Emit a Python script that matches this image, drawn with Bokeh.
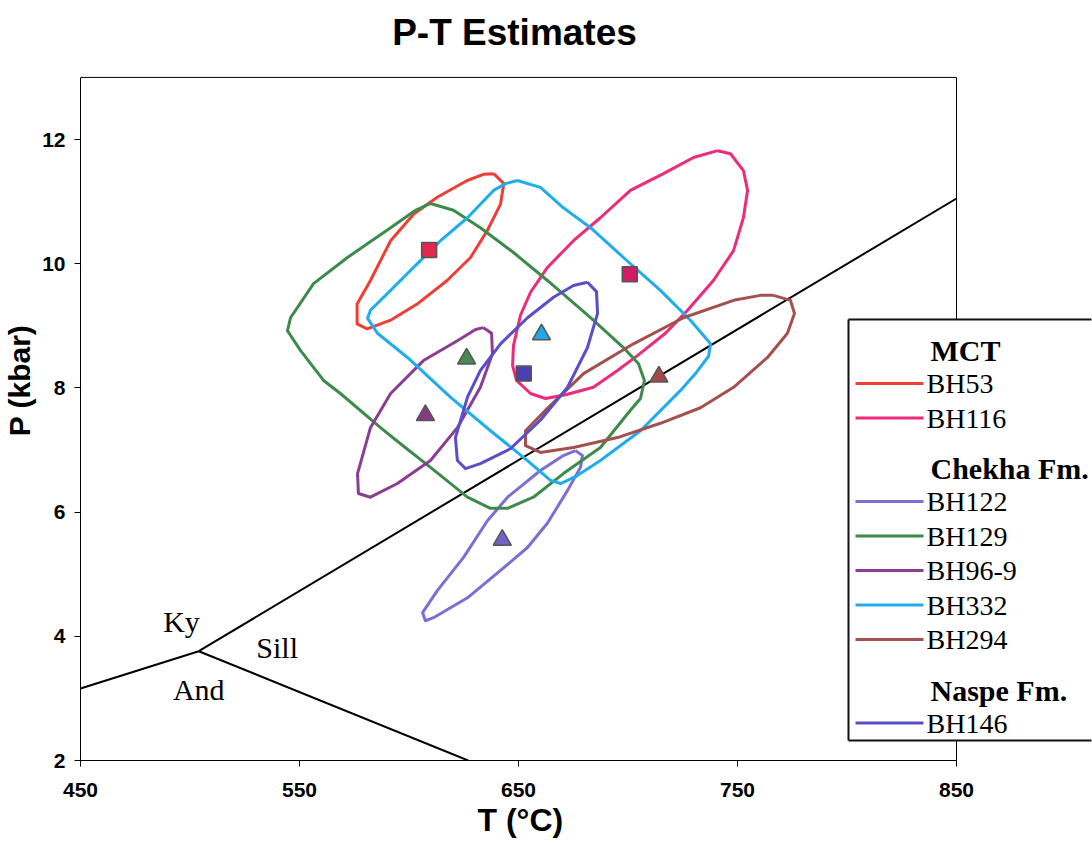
from bokeh.plotting import figure
from bokeh.models import FixedTicker, Label, Arrow, Title
from bokeh.embed import file_html
from bokeh.resources import INLINE
from bokeh.core.properties import value

# ---------------- data ----------------
T_ticks = [450, 550, 650, 750, 850]
P_ticks = [2, 4, 6, 8, 10, 12]
T_min, T_max = 450, 850
P_min, P_max = 2, 13

sample_names = ["BH53", "BH116", "BH122", "BH129", "BH96-9", "BH332", "BH294", "BH146"]
sample_colors = ["#EF3E36", "#EE2A7B", "#7B6FD6", "#3D8B4B", "#8B3D93", "#1FAEE9", "#A2514E", "#5A4FC6"]

BH53_T = [638.7, 643.3, 641.8, 635.7, 628.1, 617.4, 603.7, 591.6, 580.9, 576.3, 576.3, 582.4, 591.6, 602.2, 612.9, 626.6, 634.0]
BH53_P = [11.45, 11.29, 10.96, 10.53, 10.10, 9.73, 9.35, 9.09, 8.95, 9.03, 9.35, 9.73, 10.37, 10.80, 11.07, 11.34, 11.44]

BH116_T = [740.9, 746.8, 752.7, 754.6, 752.7, 748.2, 739.0, 727.2, 717.1, 704.3, 695.2, 684.2, 671.5, 662.3, 655.5,
           649.1, 647.3, 647.7, 650.9, 655.5, 663.2, 675.1, 687.4, 701.1, 716.2, 729.9]
BH116_P = [11.82, 11.77, 11.50, 11.18, 10.74, 10.21, 9.73, 9.25, 8.88, 8.52, 8.28, 8.01, 7.89, 7.83, 7.91,
           8.12, 8.36, 8.68, 9.17, 9.54, 9.94, 10.37, 10.74, 11.18, 11.45, 11.71]

BH122_T = [676.0, 679.2, 678.3, 672.4, 663.2, 654.1, 641.8, 626.7, 611.2, 607.5, 606.2, 613.0, 624.9, 635.8, 645.0, 660.0, 670.5]
BH122_P = [6.99, 6.91, 6.72, 6.35, 5.82, 5.43, 5.06, 4.62, 4.30, 4.25, 4.38, 4.74, 5.27, 5.86, 6.24, 6.67, 6.91]

BH129_T = [609.8, 620.3, 632.6, 647.7, 663.2, 682.9, 697.9, 704.8, 707.5, 705.7, 701.1, 687.4, 670.5, 656.8, 645.0,
           637.2, 626.7, 609.8, 596.1, 587.0, 568.7, 561.0, 550.5, 544.5, 545.9, 556.4, 571.9, 591.6, 603.0]
BH129_P = [10.97, 10.86, 10.58, 10.18, 9.73, 9.13, 8.65, 8.39, 8.12, 7.83, 7.64, 7.04, 6.62, 6.24, 6.06,
           6.06, 6.24, 6.72, 7.10, 7.36, 7.91, 8.12, 8.60, 8.92, 9.13, 9.68, 10.10, 10.58, 10.86]

BH96_9_T = [634.0, 637.7, 638.1, 632.6, 622.1, 609.8, 594.7, 582.4, 576.9, 576.5, 582.4, 591.6, 606.6, 622.1, 630.4]
BH96_9_P = [8.97, 8.88, 8.55, 8.01, 7.36, 6.83, 6.46, 6.24, 6.30, 6.62, 7.36, 7.91, 8.44, 8.76, 8.94]

BH332_T = [649.5, 660.0, 670.5, 682.9, 697.9, 714.8, 728.5, 737.7, 736.8, 730.8, 724.0, 705.7, 687.4, 676.0, 669.2,
           664.6, 654.1, 637.2, 618.9, 599.3, 585.6, 581.1, 582.4, 591.6, 602.1, 614.4, 626.7, 638.6, 644.1]
BH332_P = [11.34, 11.23, 10.90, 10.58, 10.10, 9.57, 9.09, 8.71, 8.51, 8.23, 7.96, 7.31, 6.83, 6.57, 6.46,
           6.51, 6.83, 7.31, 7.85, 8.49, 8.88, 9.12, 9.25, 9.57, 9.94, 10.37, 10.74, 11.18, 11.29]

BH294_T = [766.4, 774.2, 776.0, 772.8, 763.7, 748.2, 733.1, 714.8, 695.2, 675.1, 660.0, 653.2, 653.2, 663.2, 679.7,
           702.5, 725.3, 748.2, 760.5]
BH294_P = [9.49, 9.41, 9.20, 8.88, 8.49, 8.01, 7.68, 7.43, 7.20, 7.04, 6.96, 7.07, 7.31, 7.67, 8.23,
           8.71, 9.13, 9.41, 9.49]

BH146_T = [681.5, 685.6, 686.1, 681.5, 672.4, 660.0, 646.3, 632.6, 625.8, 622.1, 621.2, 626.7, 632.6, 641.8, 654.1, 666.0, 675.1]
BH146_P = [9.70, 9.55, 9.20, 8.65, 8.01, 7.48, 7.02, 6.78, 6.70, 6.83, 7.20, 7.85, 8.28, 8.71, 9.13, 9.46, 9.65]

contours = {
    "BH53": (BH53_T, BH53_P),
    "BH116": (BH116_T, BH116_P),
    "BH122": (BH122_T, BH122_P),
    "BH129": (BH129_T, BH129_P),
    "BH96-9": (BH96_9_T, BH96_9_P),
    "BH332": (BH332_T, BH332_P),
    "BH294": (BH294_T, BH294_P),
    "BH146": (BH146_T, BH146_P),
}

# best-estimate points
pt_names = ["BH53", "BH116", "BH146", "BH332", "BH129", "BH96-9", "BH294", "BH122"]
pt_T = [609.2, 700.8, 652.4, 660.5, 626.3, 607.5, 714.1, 642.6]
pt_P = [10.22, 9.83, 8.23, 8.86, 8.47, 7.56, 8.18, 5.55]
pt_marker = ["square", "square", "square", "triangle", "triangle", "triangle", "triangle", "triangle"]
pt_fill = ["#E2284E", "#D41C66", "#4A40B2", "#1FA8E2", "#4A8A52", "#8A3A82", "#A24A48", "#7262C6"]

# Al2SiO5 phase boundaries
KyAnd_T = [450, 504]
KyAnd_P = [3.16, 3.76]
AndSill_T = [504, 627]
AndSill_P = [3.76, 2.0]
KySill_T = [504, 850]
KySill_P = [3.76, 11.05]

phase_labels = ["Ky", "Sill", "And"]
phase_label_T = [496.1, 539.8, 504.0]
phase_label_P = [4.24, 3.82, 3.15]

legend_groups = ["MCT", "Chekha Fm.", "Naspe Fm."]
legend_members = [["BH53", "BH116"], ["BH122", "BH129", "BH96-9", "BH332", "BH294"], ["BH146"]]

title_text = "P-T Estimates"
x_title = "T (°C)"
y_title = "P (kbar)"

# ---------------- figure ----------------
# The frame runs to the top and right edges of the page, so that the title and the
# legend box (which overlaps the plot box) can be drawn inside it.
FRAME_L, FRAME_B = 80, 760
PX_PER_DEG = 2.19
PX_PER_KBAR = 62.1
X_END = T_min + (1092 - FRAME_L) / PX_PER_DEG
Y_END = P_min + FRAME_B / PX_PER_KBAR

p = figure(width=1092, height=844, x_range=(T_min, X_END), y_range=(P_min, Y_END),
           output_backend="svg", toolbar_location=None,
           min_border_left=80, min_border_right=0, min_border_top=0, min_border_bottom=84,
           background_fill_color="white", border_fill_color="white",
           outline_line_color=None)

p.xgrid.visible = False
p.ygrid.visible = False

p.xaxis.ticker = FixedTicker(ticks=T_ticks)
p.yaxis.ticker = FixedTicker(ticks=P_ticks)
p.xaxis.bounds = (T_min, T_max)
p.yaxis.bounds = (P_min, P_max)
p.yaxis.axis_label = y_title
for ax in (p.xaxis, p.yaxis):
    ax.axis_label_text_font = "Liberation Sans"
    ax.axis_label_text_font_size = "32px"
    ax.axis_label_text_font_style = "bold"
    ax.axis_label_text_color = "black"
    ax.major_label_text_font = "Liberation Sans"
    ax.major_label_text_font_size = "21px"
    ax.major_label_text_font_style = "bold"
    ax.major_label_text_color = "black"
    ax.minor_tick_line_color = None
    ax.major_tick_in = 0
    ax.major_tick_out = 6
    ax.axis_line_color = "black"
    ax.major_tick_line_color = "black"
p.xaxis.major_label_standoff = 16
p.yaxis.major_label_standoff = 9
p.yaxis.axis_label_text_font_size = "30px"
p.yaxis.axis_label_standoff = 3

# x-axis title, centred under the 450..850 plot box
p.add_layout(Title(text=x_title, align="left", offset=397, standoff=0,
                   text_font="Liberation Sans", text_font_size="32px", text_font_style="bold",
                   text_color="black"), "below")


def sy(canvas_y):
    return FRAME_B - canvas_y


def px_to_T(px):
    return T_min + (px - FRAME_L) / PX_PER_DEG


def py_to_P(py):
    return P_min + (FRAME_B - py) / PX_PER_KBAR


# legend box, in page pixels (its right edge lies at the page edge)
BOX_L, BOX_R, BOX_T, BOX_B = 848, 1091, 319, 740

# plot box: top edge and right edge (the right edge is hidden behind the legend box)
p.segment(x0=[T_min, T_max, T_max], y0=[P_max, P_max, py_to_P(BOX_B)],
          x1=[T_max, T_max, T_max], y1=[P_max, py_to_P(BOX_T), P_min],
          line_color="black", line_width=1)

# title
p.add_layout(Label(x=514 - FRAME_L, y=sy(31.5), x_units="screen", y_units="screen", text=title_text,
                   text_font="Liberation Sans", text_font_size="37px", text_font_style="bold",
                   text_align="center", text_baseline="middle", text_color="black"))

# phase boundaries
for tt, pp in ((KyAnd_T, KyAnd_P), (AndSill_T, AndSill_P), (KySill_T, KySill_P)):
    p.line(tt, pp, line_color="black", line_width=2)

p.text(x=phase_label_T, y=phase_label_P, text=phase_labels,
       text_font=value("Liberation Serif"), text_font_size="30px",
       text_align="center", text_baseline="middle", text_color="black")

# contours
color_of = dict(zip(sample_names, sample_colors))
for name in sample_names:
    tt, pp = contours[name]
    p.line(list(tt) + [tt[0]], list(pp) + [pp[0]], line_color=color_of[name],
           line_width=3, line_join="round")

# points
for m in ("square", "triangle"):
    idx = [i for i, k in enumerate(pt_marker) if k == m]
    p.scatter([pt_T[i] for i in idx], [pt_P[i] for i in idx], marker=m,
              size=15 if m == "square" else 18,
              fill_color=[pt_fill[i] for i in idx], line_color="#555555", line_width=1.5)

# ---------------- legend ----------------
# box edges (top, left, bottom)
p.segment(x0=[px_to_T(BOX_L)] * 3, y0=[py_to_P(BOX_T), py_to_P(BOX_T), py_to_P(BOX_B)],
          x1=[px_to_T(BOX_R), px_to_T(BOX_L), px_to_T(BOX_R)], y1=[py_to_P(BOX_T), py_to_P(BOX_B), py_to_P(BOX_B)],
          line_color="#111111", line_width=2)

y = 350
for gi, group in enumerate(legend_groups):
    p.add_layout(Label(x=930 - FRAME_L, y=sy(y), x_units="screen", y_units="screen", text=group,
                       text_font="Liberation Serif", text_font_size="30px", text_font_style="bold",
                       text_baseline="middle", text_color="black", level="overlay"))
    y += 33
    for name in legend_members[gi]:
        p.add_layout(Arrow(x_start=855 - FRAME_L, y_start=sy(y), x_end=923 - FRAME_L, y_end=sy(y),
                           start_units="screen", end_units="screen", end=None,
                           line_color=color_of[name], line_width=3, level="overlay"))
        p.add_layout(Label(x=926 - FRAME_L, y=sy(y), x_units="screen", y_units="screen", text=name,
                           text_font="Liberation Serif", text_font_size="28px",
                           text_baseline="middle", text_color="black", level="overlay"))
        y += 34.5
    y += 16

open("out.html", "w").write(file_html(p, INLINE))
